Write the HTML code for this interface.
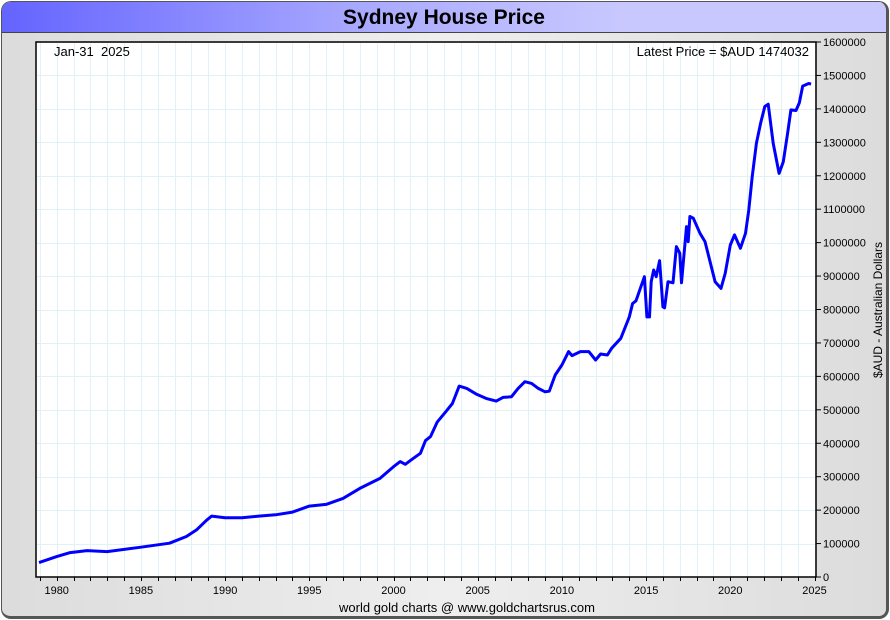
<!DOCTYPE html>
<html><head><meta charset="utf-8"><style>
body{margin:0;width:890px;height:620px;overflow:hidden;background:#fff;font-family:"Liberation Sans",sans-serif}
#frame{position:absolute;left:1px;top:1px;width:884px;height:614px;border:1px solid #555;border-right:3px solid #555;border-bottom:3px solid #555;border-radius:10px;background:linear-gradient(90deg,#dcdcdc,#eeeeee 50%,#dcdcdc);overflow:hidden}
#title{position:absolute;left:0;top:0;width:884px;height:30px;background:linear-gradient(90deg,#6464ff,#a8a8ff 40%,#c8c8ff 70%,#c8c8ff);border-bottom:1px solid #444;text-align:center;font-weight:bold;font-size:21px;line-height:32px;color:#000}
</style></head><body>
<div id="frame">
<div id="title">Sydney House Price</div>
</div>
<svg id="chart" width="890" height="620" style="position:absolute;left:0;top:0"></svg>
<script>
const years=[1978.95,1980,1980.8,1981.8,1983,1985,1986.7,1987.7,1988.3,1988.9,1989.2,1990,1991,1992,1993,1994,1995,1996,1997,1998,1999.2,2000,2000.4,2000.7,2001.1,2001.6,2001.9,2002.2,2002.6,2003.1,2003.5,2003.9,2004.35,2004.95,2005.5,2006.1,2006.5,2007,2007.4,2007.8,2008.2,2008.6,2009,2009.25,2009.6,2010,2010.4,2010.6,2011.1,2011.6,2012,2012.3,2012.7,2012.95,2013.5,2014,2014.2,2014.4,2014.9,2015.05,2015.2,2015.3,2015.45,2015.6,2015.8,2016,2016.1,2016.3,2016.6,2016.8,2017,2017.1,2017.4,2017.5,2017.6,2017.8,2018.2,2018.5,2019.1,2019.45,2019.7,2020,2020.25,2020.6,2020.9,2021.1,2021.3,2021.55,2021.8,2022.05,2022.25,2022.55,2022.9,2023.15,2023.4,2023.6,2023.9,2024.1,2024.3,2024.65,2024.8];
const prices=[43000,61000,73000,79000,76000,89000,101000,121000,141000,170000,182000,177000,177000,182000,186000,194000,212000,217000,235000,265000,295000,330000,345000,337000,352000,370000,408000,420000,464000,494000,519000,571000,564000,546000,534000,526000,537000,539000,564000,584000,579000,564000,554000,556000,604000,634000,674000,662000,674000,674000,649000,667000,664000,684000,714000,778000,818000,826000,898000,778000,778000,883000,918000,898000,946000,808000,805000,883000,880000,988000,968000,880000,1048000,1003000,1078000,1073000,1028000,1003000,883000,863000,908000,993000,1023000,983000,1028000,1098000,1197000,1297000,1357000,1407000,1414000,1297000,1207000,1242000,1327000,1397000,1395000,1418000,1468000,1476000,1474000];
const yTicks=[0,100000,200000,300000,400000,500000,600000,700000,800000,900000,1000000,1100000,1200000,1300000,1400000,1500000,1600000];
const xLabels=[1980,1985,1990,1995,2000,2005,2010,2015,2020,2025];
const L=36,T=42,R=816,B=577;
const xs=y=>56.7+(y-1980)*16.84;
const ys=v=>B-(v/1600000)*(B-T);
const svg=document.getElementById('chart');
const NS='http://www.w3.org/2000/svg';
function mk(t,a,p){const e=document.createElementNS(NS,t);for(const k in a)e.setAttribute(k,a[k]);(p||svg).appendChild(e);return e;}
const bg=mk('rect',{x:L,y:T,width:R-L,height:B-T,fill:'#fff'});


const grid=mk('g',{stroke:'#e2f0f8','stroke-width':1});


for(let v=0;v<=1600000;v+=100000){const y=Math.round(ys(v))+0.5;mk('line',{x1:L,x2:R,y1:y,y2:y},grid);}
for(let yr=1979;yr<=2025;yr++){const x=Math.round(xs(yr))+0.5;if(x<R)mk('line',{x1:x,x2:x,y1:T,y2:B},grid);}
const ax=mk('g',{stroke:'#000','stroke-width':1.5,fill:'none'});


mk('path',{d:`M${L} ${T}H${R}V${B}H${L}Z`},ax);
for(let yr=1979;yr<=2025;yr++){const x=Math.round(xs(yr))+0.5;mk('line',{x1:x,x2:x,y1:B,y2:B+4,'stroke-width':1},ax);}
yTicks.forEach(v=>{const y=ys(v);mk('line',{x1:R,x2:R+5,y1:y,y2:y,'stroke-width':1},ax);
 const t=mk('text',{x:R+7,y:y+4,'font-size':11,fill:'#000','font-family':'Liberation Sans,sans-serif'});t.textContent=v;
 
 });
xLabels.forEach(yr=>{const t=mk('text',{x:xs(yr),y:B+17,'font-size':11,'text-anchor':'middle','font-family':'Liberation Sans,sans-serif'});t.textContent=yr;
 
 });
const d=years.map((y,i)=>(i?'L':'M')+xs(y).toFixed(1)+' '+ys(prices[i]).toFixed(1)).join('');
const line=mk('path',{d:d,stroke:'#0000ff','stroke-width':3,fill:'none','stroke-linejoin':'round'});


function txt(x,y,s,name,attrs){const t=mk('text',Object.assign({x:x,y:y,'font-size':13,'font-family':'Liberation Sans,sans-serif'},attrs||{}));t.textContent=s;
 
 return t;}
txt(54,56,'Jan-31\u00a0\u00a02025','date-label');
txt(809,56,'Latest Price = $AUD 1474032','latest-price-label',{'text-anchor':'end'});
txt(467,612,'world gold charts @ www.goldchartsrus.com','source-label',{'text-anchor':'middle'});
txt(0,0,'$AUD - Australian Dollars','y-axis-title',{transform:'translate(882,310) rotate(-90)','text-anchor':'middle','font-size':12});
</script>
</body></html>
